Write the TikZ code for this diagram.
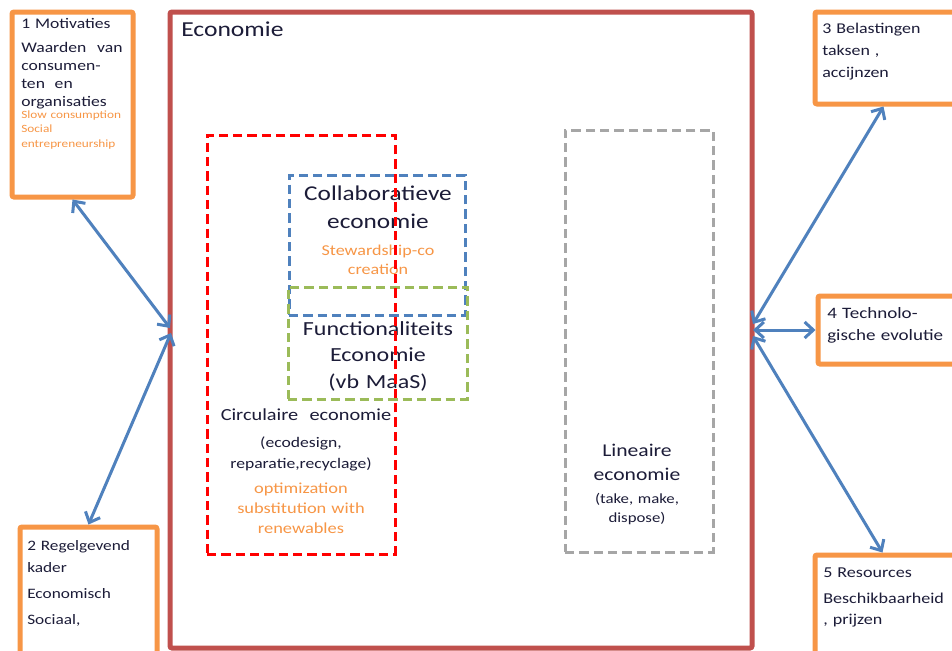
\documentclass[tikz,border=0pt]{standalone}
\usepackage{fontspec}
\setmainfont{Carlito}[FakeStretch=1.2]
\usetikzlibrary{arrows.meta,fit,calc}
\definecolor{orangeB}{HTML}{F79646}
\definecolor{frameR}{HTML}{C0504D}
\definecolor{arrowB}{HTML}{4F81BD}
\definecolor{dashG}{HTML}{9BBB59}
\definecolor{dashGr}{HTML}{A6A6A6}
\definecolor{dashR}{HTML}{FF0000}
\definecolor{txt}{HTML}{1C1C38}
\definecolor{txtO}{HTML}{F79646}
\tikzset{
 px/.style={x=0.75pt,y=-0.75pt},
 obox/.style={draw=orangeB, line width=3.75pt, rounded corners=1.5pt, inner sep=0pt, fill=white},
 econframe/.style={draw=frameR, line width=3.75pt, rounded corners=1.5pt, inner sep=0pt},
 dbox/.style={line width=2.25pt, dash pattern=on 7pt off 3.75pt, inner sep=0pt},
 lbl/.style={inner sep=0pt, anchor=base west, align=left, text=txt},
 ctr/.style={inner sep=0pt, anchor=base, align=center, text=txt},
 link/.style={draw=arrowB, line width=2.25pt, {Straight Barb[length=6.5pt,width=12pt]}-{Straight Barb[length=6.5pt,width=12pt]}},
}
\begin{document}
\begin{tikzpicture}[px]
\clip (0,0) rectangle (952,650);
\fill[white] (0,0) rectangle (952,650);
% Economie frame
\coordinate (ecA) at (170,12); \coordinate (ecB) at (752,648);
\node[econframe, fit=(ecA)(ecB)] (eco) {};
\node[lbl, font=\fontsize{16}{19}\selectfont] (ecoT) at (181,36) {Economie};
% dashed boxes
\coordinate (gA) at (565,130); \coordinate (gB) at (713,552);
\node[dbox, draw=dashGr, fit=(gA)(gB)] (lin) {};
\coordinate (blA) at (289,175); \coordinate (blB) at (465,315);
\node[dbox, draw=arrowB, fit=(blA)(blB)] (col) {};
\coordinate (grA) at (288,287); \coordinate (grB) at (467,399);
\node[dbox, draw=dashG, fit=(grA)(grB)] (fun) {};
% texts
\node[ctr, text width=140pt, font=\fontsize{15.8}{21}\selectfont] (colT) at (378,200) {Collaboratieve\\economie};
\node[ctr, text width=140pt, text=txtO, font=\fontsize{11.3}{14.3}\selectfont] (colS) at (378,255) {Stewardship-co\\creation};
\node[ctr, text width=140pt, font=\fontsize{15}{20}\selectfont] (funT) at (378,335) {Functionaliteits\\Economie\\(vb MaaS)};
\node[ctr, text width=160pt, font=\fontsize{12.7}{15}\selectfont] (cirT) at (306,420) {Circulaire\ \ economie};
\node[ctr, text width=140pt, font=\fontsize{11}{15.75}\selectfont] (cirS) at (301,447) {(ecodesign,\\reparatie,recyclage)};
\node[ctr, text width=140pt, text=txtO, font=\fontsize{11.5}{15}\selectfont] (cirO) at (301,493) {optimization\\substitution with\\renewables};
\node[ctr, text width=100pt, font=\fontsize{13.5}{18}\selectfont] (linT) at (637,456) {Lineaire\\economie};
\node[ctr, text width=100pt, font=\fontsize{10.5}{14.3}\selectfont] (linS) at (637,503) {(take, make,\\dispose)};
% red dashed on top
\coordinate (rA) at (207,135); \coordinate (rB) at (395,554);
\node[dbox, draw=dashR, fit=(rA)(rB)] (circ) {};
% outer boxes
\coordinate (b1A) at (12,12); \coordinate (b1B) at (133,197);
\node[obox, fit=(b1A)(b1B)] (b1) {};
\node[lbl, text width=76pt, font=\fontsize{11}{13.5}\selectfont] (b1T) at (21,28)
 {1 Motivaties\\[4.5pt] Waarden\hfill van\\ consumen-\\ ten\ \ en\\ organisaties};
\node[lbl, text width=84pt, text=txtO, font=\fontsize{8.3}{11.2}\selectfont] (b1O) at (21,118)
 {Slow consumption\\ Social\\ entrepreneurship};
\coordinate (b2A) at (20,527); \coordinate (b2B) at (157,690);
\node[obox, fit=(b2A)(b2B)] (b2) {};
\node[lbl, text width=96pt, font=\fontsize{10.8}{16.5}\selectfont] (b2T) at (27,550)
 {2 Regelgevend\\ kader\\[3pt] Economisch\\[3pt] Sociaal,};
\coordinate (b3A) at (815,12); \coordinate (b3B) at (975,104);
\node[obox, fit=(b3A)(b3B)] (b3) {};
\node[lbl, text width=100pt, font=\fontsize{11.2}{16.5}\selectfont] (b3T) at (822,33)
 {3 Belastingen\\ taksen ,\\ accijnzen};
\coordinate (b4A) at (818,296); \coordinate (b4B) at (975,364);
\node[obox, fit=(b4A)(b4B)] (b4) {};
\node[lbl, text width=100pt, font=\fontsize{11.9}{16.5}\selectfont] (b4T) at (827,318)
 {4 Technolo-\\ gische evolutie};
\coordinate (b5A) at (815,555); \coordinate (b5B) at (975,690);
\node[obox, fit=(b5A)(b5B)] (b5) {};
\node[lbl, text width=100pt, font=\fontsize{11.3}{16}\selectfont] (b5T) at (823,577)
 {5 Resources\\[3.5pt] Beschikbaarheid\\ , prijzen};
% connectors
\coordinate (eL1) at (170,328); \coordinate (eL2) at (171,333);
\coordinate (eR1) at (753,324); \coordinate (eR2) at (753,330); \coordinate (eR3) at (753,336);
\draw[link] (b1.south) -- (eL1);
\draw[link] (b2.north) -- (eL2);
\draw[link] ($(b3.south west)+(71,0)$) -- (eR1);
\draw[link] (b4.west) -- (eR2);
\draw[link] ($(b5.north west)+(70,0)$) -- (eR3);
\end{tikzpicture}
\end{document}
